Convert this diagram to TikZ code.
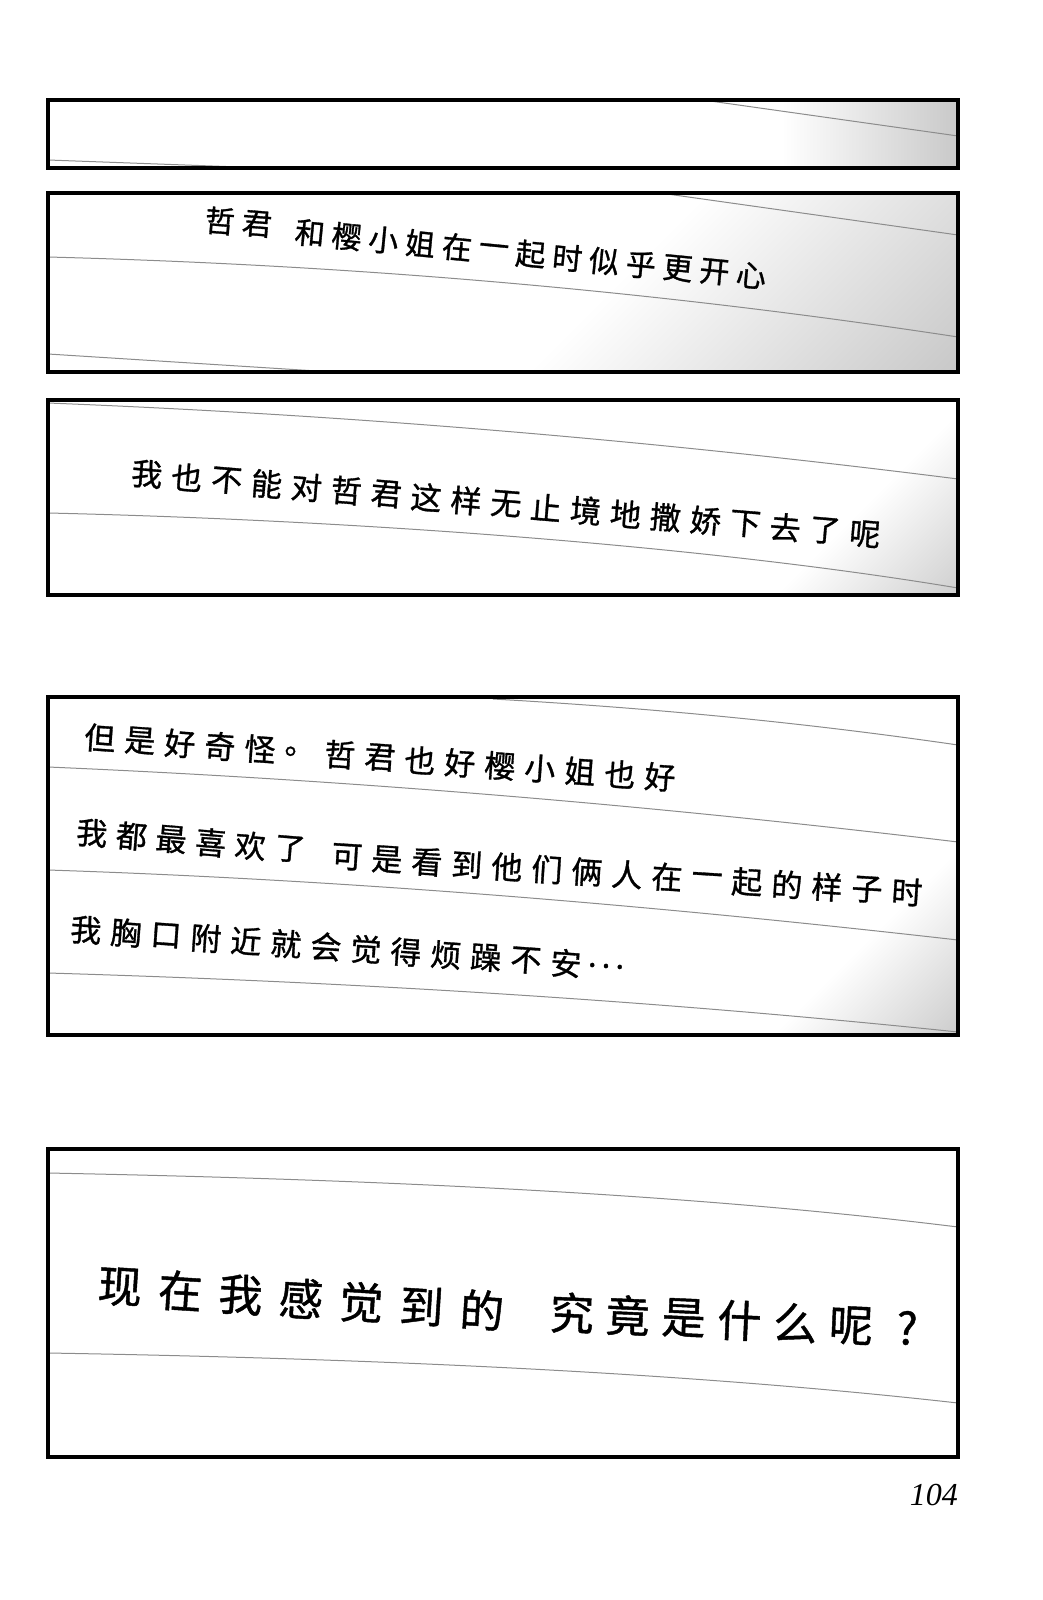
\documentclass[tikz,border=0pt]{standalone}
\usepackage{fontspec}
\newfontfamily\cjk[BoldFont={Noto Sans CJK SC},BoldFeatures={FakeBold=1}]{Noto Sans CJK SC}
\newfontfamily\numfont{Liberation Serif}
\tikzset{
  panel/.style={line width=4pt,line join=miter},
  tone line/.style={black!45,line width=1pt},
  tone/.style={left color=white,right color=black!22,middle color=white},
  hand/.style={font=\cjk\bfseries\fontsize{#1}{#1}\selectfont,inner sep=0pt,sloped},
  hand/.default=31
}
\begin{document}
\begin{tikzpicture}[x=1pt,y=-1pt]
\useasboundingbox (0,0) rectangle (1042,1600);
\path
(48,100) coordinate (p1nw) (958,168) coordinate (p1se)
(48,193) coordinate (p2nw) (958,372) coordinate (p2se)
(48,400) coordinate (p3nw) (958,595) coordinate (p3se)
(48,697) coordinate (p4nw) (958,1035) coordinate (p4se)
(48,1149) coordinate (p5nw) (958,1457) coordinate (p5se);
% panel 1
\begin{scope}
\clip (p1nw) rectangle (p1se);
\shade[tone] (600,90) rectangle (964,178);
\draw[tone line] (703,100)--(958,136);
\draw[tone line] (48,160)--(267,168);
\end{scope}
\draw[panel] (p1nw) rectangle (p1se);
% panel 2
\begin{scope}
\clip (p2nw) rectangle (p2se);
\shade[tone,transform canvas={rotate around={-45:(617,282)}}] (307,-118) rectangle (927,682);
\draw[tone line] (660,193)--(958,235);
\draw[tone line] (48,257) .. controls (350,265) and (650,290) .. (958,337);
\draw[tone line] (48,354)--(333,372);
\end{scope}
\draw[panel] (p2nw) rectangle (p2se);
\path (220,221)--(257,224) \foreach \ch [count=\i from 0] in {哲,君} {node[hand=30,pos=\i] (ta\i) {\ch}};
\path (310,233)--(788,279) \foreach \ch [count=\i from 0,evaluate=\i as \p using \i/13] in {和,樱,小,姐,在,一,起,时,似,乎,更,开,心} {node[hand=30,pos=\p] (tb\i) {\ch}};
% panel 3
\begin{scope}
\clip (p3nw) rectangle (p3se);
\shade[tone,transform canvas={rotate around={-45:(840,530)}}] (690,180) rectangle (990,880);
\draw[tone line] (48,403) .. controls (350,415) and (650,440) .. (958,479);
\draw[tone line] (48,513) .. controls (350,520) and (700,545) .. (958,588);
\end{scope}
\draw[panel] (p3nw) rectangle (p3se);
\path (147,474)--(865,534) \foreach \ch [count=\i from 0,evaluate=\i as \p using \i/18] in {我,也,不,能,对,哲,君,这,样,无,止,境,地,撒,娇,下,去,了,呢} {node[hand,pos=\p] (tc\i) {\ch}};
% panel 4
\begin{scope}
\clip (p4nw) rectangle (p4se);
\shade[tone,transform canvas={rotate around={-45:(832,975)}}] (687,625) rectangle (977,1325);
\draw[tone line] (493,699) .. controls (650,708) and (800,722) .. (958,745);
\draw[tone line] (48,767) .. controls (350,780) and (650,805) .. (958,842);
\draw[tone line] (48,870) .. controls (350,880) and (650,905) .. (958,940);
\draw[tone line] (48,973) .. controls (350,982) and (650,1000) .. (958,1032);
\end{scope}
\draw[panel] (p4nw) rectangle (p4se);
\path (100,738)--(660,777) \foreach \ch [count=\i from 0,evaluate=\i as \p using \i/14] in {但,是,好,奇,怪,。,哲,君,也,好,樱,小,姐,也,好} {node[hand,pos=\p] (td\i) {\ch}};
\path (92,833)--(290,849) \foreach \ch [count=\i from 0,evaluate=\i as \p using \i/5] in {我,都,最,喜,欢,了} {node[hand,pos=\p] (te\i) {\ch}};
\path (347,857)--(907,892) \foreach \ch [count=\i from 0,evaluate=\i as \p using \i/14] in {可,是,看,到,他,们,俩,人,在,一,起,的,样,子,时} {node[hand,pos=\p] (tf\i) {\ch}};
\path (86,930)--(606,966) \foreach \ch [count=\i from 0,evaluate=\i as \p using \i/13] in {我,胸,口,附,近,就,会,觉,得,烦,躁,不,安,{.\,.\,.}} {node[hand,pos=\p] (tg\i) {\ch}};
% panel 5
\begin{scope}
\clip (p5nw) rectangle (p5se);
\draw[tone line] (48,1173) .. controls (400,1180) and (700,1195) .. (958,1227);
\draw[tone line] (48,1353) .. controls (400,1359) and (700,1374) .. (958,1403);
\end{scope}
\draw[panel] (p5nw) rectangle (p5se);
\path (120,1287)--(482,1310) \foreach \ch [count=\i from 0,evaluate=\i as \p using \i/6] in {现,在,我,感,觉,到,的} {node[hand=44,pos=\p] (th\i) {\ch}};
\path (572,1313)--(907,1328) \foreach \ch [count=\i from 0,evaluate=\i as \p using \i/6] in {究,竟,是,什,么,呢,?} {node[hand=44,pos=\p] (ti\i) {\ch}};
\node[anchor=base east,inner sep=0pt,font=\numfont\itshape\fontsize{32}{32}\selectfont] (page) at (958,1505) {104};
\end{tikzpicture}
\end{document}
